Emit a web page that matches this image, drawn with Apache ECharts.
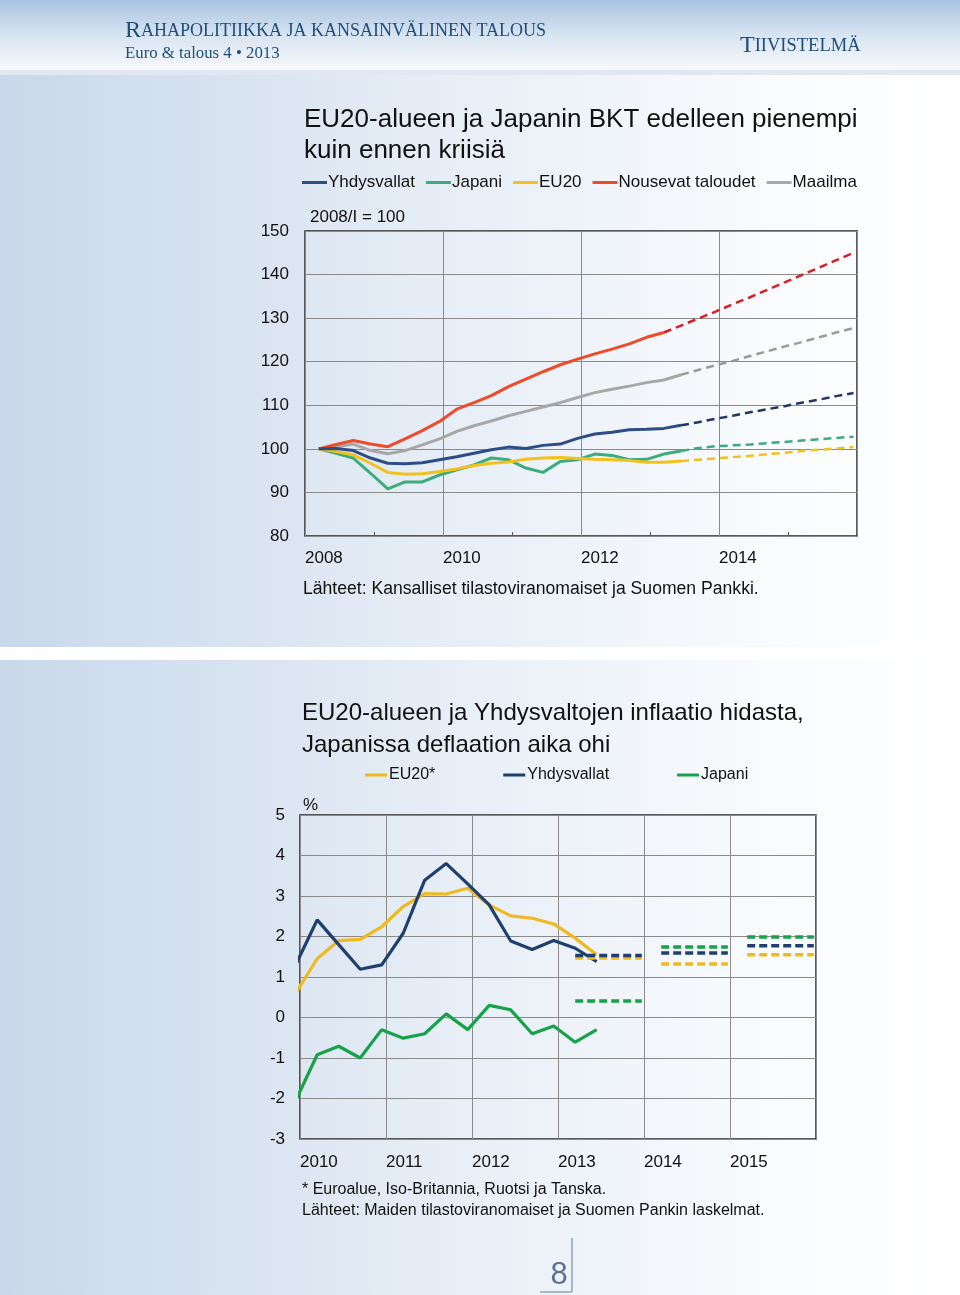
<!DOCTYPE html>
<html>
<head>
<meta charset="utf-8">
<script src="https://cdn.jsdelivr.net/npm/echarts@6/dist/echarts.min.js"></script>
<style>
html,body{margin:0;padding:0;background:#fff;}
#c{width:960px;height:1295px;}
</style>
</head>
<body>
<div id="c"></div>
<script>
// ---------------- DATA ----------------
// Chart 1: GDP, 2008/I = 100, quarterly
const ROMAN = ['I', 'II', 'III', 'IV'];
const gdpYears = [2008, 2009, 2010, 2011, 2012, 2013, 2014, 2015];
const gdpQuarters = [];
gdpYears.forEach(y => ROMAN.forEach(q => gdpQuarters.push(y + '/' + q)));
const gdpYTicks = [80, 90, 100, 110, 120, 130, 140, 150];
const gdpXTicks = [2008, 2010, 2012, 2014];
const gdpNames = ['Yhdysvallat', 'Japani', 'EU20', 'Nousevat taloudet', 'Maailma'];

const gdpUS    = [100, 100.1, 99.6, 97.9, 96.7, 96.6, 96.8, 97.5, 98.2, 99.0, 99.8, 100.4, 100.1, 100.8, 101.1, 102.4, 103.4, 103.8, 104.4, 104.5, 104.7, 105.4];
const gdpJP    = [100, 99.0, 97.9, 94.4, 90.8, 92.4, 92.4, 94.0, 95.2, 96.3, 97.9, 97.5, 95.6, 94.6, 97.1, 97.5, 98.8, 98.5, 97.5, 97.6, 98.8, 99.5];
const gdpEU    = [100, 99.4, 98.6, 96.7, 94.6, 94.2, 94.3, 94.8, 95.4, 96.2, 96.7, 97.0, 97.6, 97.9, 98.0, 97.8, 97.6, 97.5, 97.3, 96.9, 96.9, 97.2];
const gdpEM    = [100, 101.0, 101.9, 101.1, 100.5, 102.3, 104.2, 106.3, 109.1, 110.6, 112.2, 114.3, 116.0, 117.7, 119.3, 120.6, 121.8, 122.9, 124.1, 125.6, 126.7];
const gdpWorld = [100, 100.5, 101.1, 99.6, 98.9, 99.6, 100.9, 102.3, 104.0, 105.3, 106.4, 107.6, 108.6, 109.6, 110.6, 111.8, 112.9, 113.7, 114.4, 115.2, 115.8, 117.0];
// forecasts (start at the last actual quarter)
const gdpUSF    = [105.4, 106.1, 106.9, 107.6, 108.4, 109.1, 109.8, 110.6, 111.3, 112.1, 112.8];
const gdpJPF    = [99.5, 100.2, 100.6, 100.8, 101.0, 101.3, 101.6, 101.9, 102.2, 102.5, 102.8];
const gdpEUF    = [97.2, 97.5, 97.8, 98.1, 98.4, 98.8, 99.1, 99.5, 99.8, 100.1, 100.4];
const gdpEMF    = [126.7, 128.3, 129.9, 131.5, 133.2, 134.8, 136.5, 138.2, 139.9, 141.6, 143.3, 145.0];
const gdpWorldF = [117.0, 118.1, 119.2, 120.2, 121.3, 122.4, 123.5, 124.5, 125.6, 126.7, 127.7];

// Chart 2: inflation, %, quarterly from 2009/IV
const inflQuarters = ['2009/IV',
  '2010/I', '2010/II', '2010/III', '2010/IV',
  '2011/I', '2011/II', '2011/III', '2011/IV',
  '2012/I', '2012/II', '2012/III', '2012/IV',
  '2013/I', '2013/II'];
const inflYTicks = [-3, -2, -1, 0, 1, 2, 3, 4, 5];
const inflXTicks = [2010, 2011, 2012, 2013, 2014, 2015];
const inflNames = ['EU20*', 'Yhdysvallat', 'Japani'];
const inflEU = [0.6, 1.45, 1.9, 1.93, 2.24, 2.74, 3.06, 3.05, 3.19, 2.78, 2.51, 2.45, 2.31, 1.96, 1.55];
const inflUS = [1.3, 2.41, 1.8, 1.19, 1.3, 2.08, 3.39, 3.8, 3.3, 2.78, 1.89, 1.68, 1.9, 1.71, 1.38];
const inflJP = [-2.05, -0.92, -0.71, -1.0, -0.3, -0.51, -0.4, 0.09, -0.3, 0.3, 0.19, -0.4, -0.21, -0.61, -0.3];
// annual forecasts
const inflFYears = [2013, 2014, 2015];
const inflEUF = [1.47, 1.32, 1.55];
const inflUSF = [1.53, 1.59, 1.77];
const inflJPF = [0.41, 1.74, 1.99];

// ---------------- HELPERS ----------------
const FONT = '"Liberation Sans", Arial, Helvetica, sans-serif';
const SERIF = '"Liberation Serif", "Times New Roman", serif';
function qx(label) {
  const p = label.split('/');
  return +p[0] + ROMAN.indexOf(p[1]) * 0.25 + 0.2;
}
function pts(labels, startIdx, values) {
  return values.map((v, i) => [qx(labels[startIdx + i]), v]);
}
function annualPts(years, values) {
  const out = [];
  years.forEach((y, i) => {
    out.push([y + 0.2, values[i]]);
    out.push([y + 0.975, values[i]]);
    out.push([y + 0.99, '-']);
  });
  return out;
}
const gdpFStart = gdpQuarters.indexOf('2013/II');
const gdpEMFStart = gdpQuarters.indexOf('2013/I');

const C1 = {us: '#2d4d85', usF: '#1f3864', jp: '#3dab7b', eu: '#f3c11b', em: '#ee4b2b', emF: '#d91e24', w: '#a7a7a7', wF: '#9a9a9a'};
const C2 = {eu: '#efb91f', us: '#1f3f6e', jp: '#17a24a'};

function solid(name, data, color, xi, w, z) {
  return {name, type: 'line', xAxisIndex: xi, yAxisIndex: xi, data, symbol: 'none', z: z || 3,
    lineStyle: {color, width: w}, itemStyle: {color}, clip: true, animation: false};
}
function dashed(name, data, color, xi, w, dash, z) {
  return {name, type: 'line', xAxisIndex: xi, yAxisIndex: xi, data, symbol: 'none', z: z || 3,
    lineStyle: {color, width: w, type: dash}, itemStyle: {color}, clip: true, connectNulls: false, animation: false};
}

const panelGrad = {type: 'linear', x: 0, y: 0, x2: 1, y2: 0, colorStops: [
  {offset: 0, color: '#c8d8ea'}, {offset: 0.45, color: '#e6edf6'}, {offset: 0.8, color: '#f9fbfd'}, {offset: 1, color: '#ffffff'}]};

function txt(text, x, y, size, opts) {
  opts = opts || {};
  return {type: 'text', z: 50, style: {text, x, y, font: (opts.weight || 'normal') + ' ' + size + 'px ' + (opts.family || FONT),
    fill: opts.color || '#111', align: opts.align || 'left', verticalAlign: 'middle', textAlign: opts.align || 'left', textVerticalAlign: 'middle'}};
}

// ---------------- OPTION ----------------
const chart = echarts.init(document.getElementById('c'), null, {renderer: 'canvas', width: 960, height: 1295});

const axisLabelBase = {color: '#111', fontFamily: FONT};
const gridLine = {show: true, lineStyle: {color: '#8a8a8a', width: 1}};

const option = {
  animation: false,
  backgroundColor: '#ffffff',
  title: [
    {text: 'EU20-alueen ja Japanin BKT edelleen pienempi\nkuin ennen kriisiä', left: 299, top: 99,
      textStyle: {fontFamily: FONT, fontSize: 26, fontWeight: 'normal', color: '#111', lineHeight: 31}},
    {text: 'EU20-alueen ja Yhdysvaltojen inflaatio hidasta,\nJapanissa deflaation aika ohi', left: 297, top: 692,
      textStyle: {fontFamily: FONT, fontSize: 24, fontWeight: 'normal', color: '#111', lineHeight: 32}}
  ],
  legend: [
    {data: gdpNames.map((n, i) => ({name: n, itemStyle: {color: [C1.us, C1.jp, C1.eu, C1.em, C1.w][i]}})),
      left: 302, top: 174, icon: 'rect', itemWidth: 25, itemHeight: 3, itemGap: 11, padding: 0,
      textStyle: {fontFamily: FONT, fontSize: 17, color: '#111', padding: [0, 0, 0, -4]}},
    {data: inflNames.map((n, i) => ({name: n, itemStyle: {color: [C2.eu, C2.us, C2.jp][i]}})),
      left: 365, top: 767, icon: 'rect', itemWidth: 22, itemHeight: 3, itemGap: 68, padding: 0,
      textStyle: {fontFamily: FONT, fontSize: 16, color: '#111', padding: [0, 0, 0, -3]}}
  ],
  grid: [
    {left: 305, top: 231, width: 552, height: 305, show: true, borderColor: '#262626', borderWidth: 1.5, backgroundColor: 'transparent'},
    {left: 300, top: 815, width: 516, height: 324, show: true, borderColor: '#262626', borderWidth: 1.5, backgroundColor: 'transparent'}
  ],
  xAxis: [
    {type: 'value', gridIndex: 0, min: 2008, max: 2016, interval: 2,
      axisLine: {show: false}, axisTick: {show: false, inside: true},
      minorTick: {show: true, splitNumber: 2, length: 4, lineStyle: {color: '#555', width: 1}},
      splitLine: gridLine,
      axisLabel: Object.assign({}, axisLabelBase, {fontSize: 17, align: 'left', margin: 14,
        formatter: v => gdpXTicks.indexOf(v) >= 0 ? String(v) : ''})},
    {type: 'value', gridIndex: 1, min: 2010, max: 2016, interval: 1,
      axisLine: {show: false}, axisTick: {show: false},
      splitLine: gridLine,
      axisLabel: Object.assign({}, axisLabelBase, {fontSize: 17, align: 'left', margin: 15,
        formatter: v => inflXTicks.indexOf(v) >= 0 ? String(v) : ''})}
  ],
  yAxis: [
    {type: 'value', gridIndex: 0, min: gdpYTicks[0], max: gdpYTicks[gdpYTicks.length - 1], interval: 10,
      axisLine: {show: false}, axisTick: {show: false}, splitLine: gridLine,
      axisLabel: Object.assign({}, axisLabelBase, {fontSize: 17, margin: 16})},
    {type: 'value', gridIndex: 1, min: inflYTicks[0], max: inflYTicks[inflYTicks.length - 1], interval: 1,
      axisLine: {show: false}, axisTick: {show: false}, splitLine: gridLine,
      axisLabel: Object.assign({}, axisLabelBase, {fontSize: 17, margin: 15})}
  ],
  series: [
    // chart 1
    dashed('Maailma (ennuste)', pts(gdpQuarters, gdpFStart, gdpWorldF), C1.wF, 0, 2.5, [8, 5]),
    dashed('Nousevat taloudet (ennuste)', pts(gdpQuarters, gdpEMFStart, gdpEMF), C1.emF, 0, 2.5, [8, 5]),
    dashed('Yhdysvallat (ennuste)', pts(gdpQuarters, gdpFStart, gdpUSF), C1.usF, 0, 2.5, [8, 5]),
    dashed('Japani (ennuste)', pts(gdpQuarters, gdpFStart, gdpJPF), C1.jp, 0, 2.5, [8, 5]),
    dashed('EU20 (ennuste)', pts(gdpQuarters, gdpFStart, gdpEUF), C1.eu, 0, 2.5, [8, 5]),
    solid('Maailma', pts(gdpQuarters, 0, gdpWorld), C1.w, 0, 3),
    solid('Nousevat taloudet', pts(gdpQuarters, 0, gdpEM), C1.em, 0, 3),
    solid('Japani', pts(gdpQuarters, 0, gdpJP), C1.jp, 0, 3),
    solid('EU20', pts(gdpQuarters, 0, gdpEU), C1.eu, 0, 3),
    solid('Yhdysvallat', pts(gdpQuarters, 0, gdpUS), C1.us, 0, 3),
    // chart 2
    solid('EU20*', pts(inflQuarters, 0, inflEU), C2.eu, 1, 3.2),
    solid('Yhdysvallat', pts(inflQuarters, 0, inflUS), C2.us, 1, 3.2),
    solid('Japani', pts(inflQuarters, 0, inflJP), C2.jp, 1, 3.2),
    dashed('EU20* (ennuste)', annualPts(inflFYears, inflEUF), C2.eu, 1, 3.5, [8, 4]),
    dashed('Yhdysvallat (ennuste)', annualPts(inflFYears, inflUSF), C2.us, 1, 3.5, [8, 4]),
    dashed('Japani (ennuste)', annualPts(inflFYears, inflJPF), C2.jp, 1, 3.5, [8, 4])
  ],
  graphic: [
    // backgrounds
    {type: 'rect', z: -100, shape: {x: 0, y: 0, width: 960, height: 71},
      style: {fill: {type: 'linear', x: 0, y: 0, x2: 0, y2: 1, colorStops: [
        {offset: 0, color: '#a9c3e1'}, {offset: 0.5, color: '#d8e4f1'}, {offset: 1, color: '#f7f9fc'}]}}},
    {type: 'rect', z: -100, shape: {x: 0, y: 70, width: 960, height: 5}, style: {fill: '#e1e8f1'}},
    {type: 'rect', z: -100, shape: {x: 0, y: 75, width: 960, height: 572}, style: {fill: panelGrad}},
    {type: 'rect', z: -100, shape: {x: 0, y: 660, width: 960, height: 635}, style: {fill: panelGrad}},
    // header
    {type: 'text', z: 50, style: {x: 125, y: 31, text: '{b|R}{s|AHAPOLITIIKKA JA KANSAINVÄLINEN TALOUS}',
      verticalAlign: 'middle', textVerticalAlign: 'middle',
      rich: {b: {fontFamily: SERIF, fontSize: 24, fill: '#1f4e7a', color: '#1f4e7a'},
             s: {fontFamily: SERIF, fontSize: 18, fill: '#1f4e7a', color: '#1f4e7a'}}}},
    txt('Euro & talous 4 • 2013', 125, 54, 16.8, {family: SERIF, color: '#1f4e7a'}),
    {type: 'text', z: 50, style: {x: 740, y: 46, text: '{b|T}{s|IIVISTELMÄ}',
      verticalAlign: 'middle', textVerticalAlign: 'middle',
      rich: {b: {fontFamily: SERIF, fontSize: 24, fill: '#1f4e7a', color: '#1f4e7a'},
             s: {fontFamily: SERIF, fontSize: 18.5, fill: '#1f4e7a', color: '#1f4e7a'}}}},
    // chart 1 texts
    txt('2008/I = 100', 310, 217, 17),
    txt('Lähteet: Kansalliset tilastoviranomaiset ja Suomen Pankki.', 303, 589, 17.6),
    // chart 2 texts
    txt('%', 303, 805, 17),
    txt('* Euroalue, Iso-Britannia, Ruotsi ja Tanska.', 302, 1190, 16),
    txt('Lähteet: Maiden tilastoviranomaiset ja Suomen Pankin laskelmat.', 302, 1211, 16),
    // page number
    {type: 'line', z: 50, shape: {x1: 572, y1: 1238, x2: 572, y2: 1292}, style: {stroke: '#8fa3b8', lineWidth: 1.5}},
    {type: 'line', z: 50, shape: {x1: 540, y1: 1292, x2: 572, y2: 1292}, style: {stroke: '#8fa3b8', lineWidth: 1.5}},
    txt('8', 559, 1275, 31, {align: 'center', color: '#5d7190'})
  ]
};
chart.setOption(option);
</script>
</body>
</html>
